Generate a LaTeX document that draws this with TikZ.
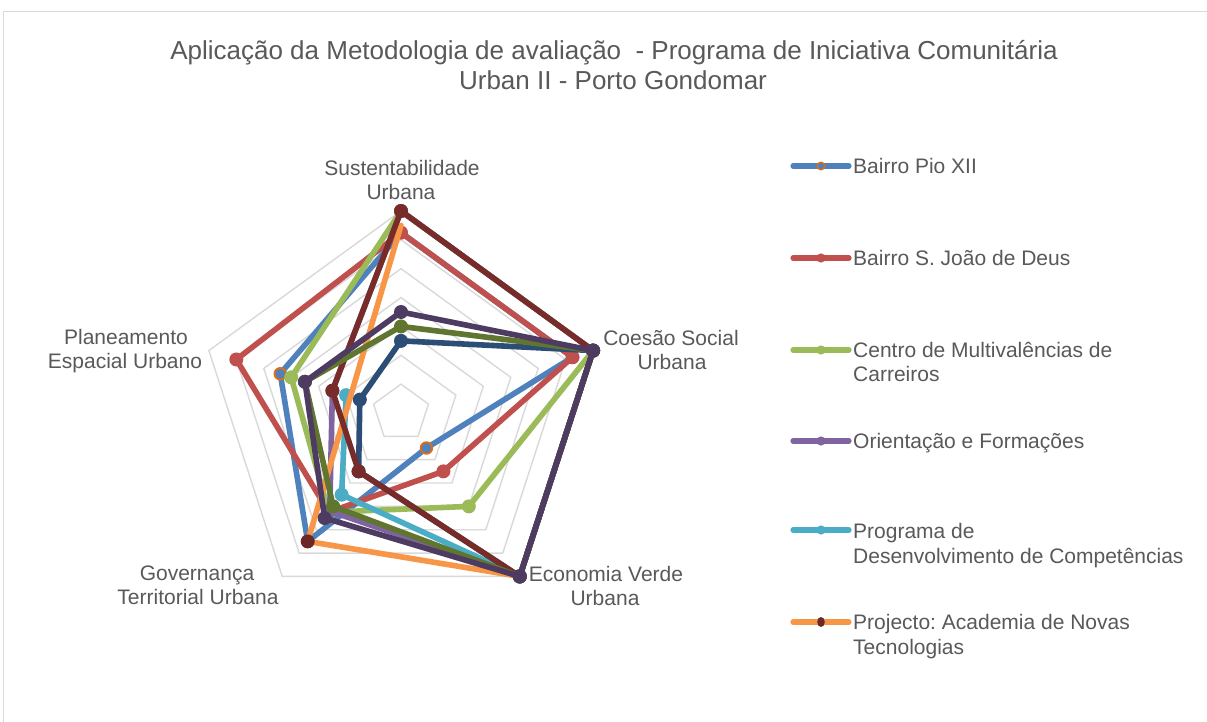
\documentclass[tikz,border=0pt]{standalone}
\usepackage{fontspec}
\setmainfont{Liberation Sans}
\usetikzlibrary{calc}
\definecolor{cBlue}{HTML}{4F81BD}
\definecolor{cRed}{HTML}{C0504D}
\definecolor{cGreen}{HTML}{9BBB59}
\definecolor{cPurple}{HTML}{8064A2}
\definecolor{cCyan}{HTML}{4BACC6}
\definecolor{cOrange}{HTML}{F79646}
\definecolor{cDBlue}{HTML}{2C4D75}
\definecolor{cMaroon}{HTML}{772C2A}
\definecolor{cDGreen}{HTML}{5F7530}
\definecolor{cDPurple}{HTML}{4D3B62}
\definecolor{cMkOrange}{HTML}{E46C0A}
\definecolor{cText}{HTML}{595959}
\definecolor{cGrid}{HTML}{D9D9D9}
\newcommand{\U}{28.857}
\newcommand{\defser}[6]{%
  \coordinate (#1-1) at ($(C)+(-90:{#2*\U})$);
  \coordinate (#1-2) at ($(C)+(-18:{#3*\U})$);
  \coordinate (#1-3) at ($(C)+(54:{#4*\U})$);
  \coordinate (#1-4) at ($(C)+(126:{#5*\U})$);
  \coordinate (#1-5) at ($(C)+(198:{#6*\U})$);}
\newcommand{\mkr}{7}
\tikzset{
  serline/.style={line width=5.6, line join=round, line cap=round},
  gridline/.style={draw=cGrid, line width=1.4},
  lab/.style={text=cText, inner sep=0, font=\fontsize{21}{24}\selectfont},
  ttl/.style={text=cText, inner sep=0, font=\fontsize{26}{30}\selectfont},
  legline/.style={line width=5.2, line cap=round},
}
\frenchspacing
\begin{document}
\begin{tikzpicture}[x=1pt,y=-1pt]
\useasboundingbox (0,0) rectangle (1207,722);
\fill[white] (0,0) rectangle (1207,722);
\begin{scope}
\clip (0,0) rectangle (1207,722);
\draw[draw=cGrid, line width=1.5] (3.5,11.5) rectangle (1230,740);
\end{scope}
% title
\node[ttl, anchor=base] (t1) at (614,59.5) {Aplicação da Metodologia de avaliação \ - Programa de Iniciativa Comunitária};
\node[ttl, anchor=base] (t2) at (613,89.5) {Urban II - Porto Gondomar};
% radar grid
\coordinate (C) at (401,413);
\foreach \k in {1,...,7}{
  \draw[gridline] ($(C)+(-90:{\k*\U})$) -- ($(C)+(-18:{\k*\U})$) -- ($(C)+(54:{\k*\U})$) -- ($(C)+(126:{\k*\U})$) -- ($(C)+(198:{\k*\U})$) -- cycle;
}
% axis labels
\node[lab, anchor=base] (ls1) at (402,175.5) {Sustentabilidade};
\node[lab, anchor=base] (ls2) at (401,199.5) {Urbana};
\node[lab, anchor=base] (lc1) at (671,345.5) {Coesão Social};
\node[lab, anchor=base] (lc2) at (672,369.5) {Urbana};
\node[lab, anchor=base] (le1) at (606,581.5) {Economia Verde};
\node[lab, anchor=base] (le2) at (605,605.5) {Urbana};
\node[lab, anchor=base] (lg1) at (197,580.5) {Governança};
\node[lab, anchor=base] (lg2) at (198,604.5) {Territorial Urbana};
\node[lab, anchor=base] (lp1) at (126,344.5) {Planeamento};
\node[lab, anchor=base] (lp2) at (125,368.5) {Espacial Urbano};
% data
\defser{b}{6.25}{6.25}{1.5}{5.5}{4.4}
\defser{r}{6.25}{6.25}{2.5}{4.25}{6}
\defser{g}{7}{7}{4}{4.25}{4}
\defser{p}{7}{7}{7}{4.2}{2.5}
\defser{c}{0}{0}{7}{3.5}{2}
\defser{o}{6.5}{7}{7}{5.5}{0}
\defser{db}{2.5}{7}{7}{2.5}{1.5}
\defser{m}{7}{7}{7}{2.5}{2.5}
\defser{dg}{3}{7}{7}{4}{3.5}
\defser{dp}{3.5}{7}{7}{4.5}{3.5}
% series 1
\draw[serline, cBlue] (b-1) -- (b-2) -- (b-3) -- (b-4) -- (b-5) -- cycle;
\foreach \i in {1,...,5}{\filldraw[fill=cBlue, draw=cMkOrange, line width=1.8] (b-\i) circle (5.8);}
% series 2
\draw[serline, cRed] (r-1) -- (r-2) -- (r-3) -- (r-4) -- (r-5) -- cycle;
\foreach \i in {1,...,5}{\fill[cRed] (r-\i) circle (\mkr);}
% series 3
\draw[serline, cGreen] (g-1) -- (g-2) -- (g-3) -- (g-4) -- (g-5) -- cycle;
\foreach \i in {1,...,5}{\fill[cGreen] (g-\i) circle (\mkr);}
% series 4
\draw[serline, cPurple] (p-1) -- (p-2) -- (p-3) -- (p-4) -- (p-5) -- cycle;
\foreach \i in {1,...,5}{\fill[cPurple] (p-\i) circle (\mkr);}
% series 5
\draw[serline, cCyan] (c-5) -- (c-4) -- (c-3);
\foreach \i in {3,4,5}{\fill[cCyan] (c-\i) circle (\mkr);}
% series 6
\draw[serline, cOrange] (o-3) -- (o-4) -- (o-1);
\foreach \i in {3,4}{\fill[cMaroon!90!black] (o-\i) circle (\mkr);}
% series 7
\draw[serline, cDBlue] (db-1) -- (db-2) -- (db-3) -- (db-4) -- (db-5) -- cycle;
\foreach \i in {1,...,5}{\fill[cDBlue] (db-\i) circle (\mkr);}
% series 8
\draw[serline, cMaroon] (m-1) -- (m-2) -- (m-3) -- (m-4) -- (m-5) -- cycle;
\foreach \i in {1,...,5}{\fill[cMaroon] (m-\i) circle (\mkr);}
% series 9
\draw[serline, cDGreen] (dg-1) -- (dg-2) -- (dg-3) -- (dg-4) -- (dg-5) -- cycle;
\foreach \i in {1,...,5}{\fill[cDGreen] (dg-\i) circle (\mkr);}
% series 10
\draw[serline, cDPurple] (dp-1) -- (dp-2) -- (dp-3) -- (dp-4) -- (dp-5) -- cycle;
\foreach \i in {1,...,5}{\fill[cDPurple] (dp-\i) circle (\mkr);}
% legend
\coordinate (L1a) at (793,166); \coordinate (L1b) at (849,166); \coordinate (L1m) at (821,166);
\coordinate (L2a) at (793,258); \coordinate (L2b) at (849,258); \coordinate (L2m) at (821,258);
\coordinate (L3a) at (793,350); \coordinate (L3b) at (849,350); \coordinate (L3m) at (821,350);
\coordinate (L4a) at (793,441); \coordinate (L4b) at (849,441); \coordinate (L4m) at (821,441);
\coordinate (L5a) at (793,530); \coordinate (L5b) at (849,530); \coordinate (L5m) at (821,530);
\coordinate (L6a) at (793,622); \coordinate (L6b) at (849,622); \coordinate (L6m) at (821,622);
\draw[legline, cBlue] (L1a) -- (L1b);
\filldraw[fill=cBlue, draw=cMkOrange, line width=1.3] (L1m) circle (3.8);
\draw[legline, cRed] (L2a) -- (L2b); \fill[cRed] (L2m) circle (4.6);
\draw[legline, cGreen] (L3a) -- (L3b); \fill[cGreen] (L3m) circle (4.6);
\draw[legline, cPurple] (L4a) -- (L4b); \fill[cPurple] (L4m) circle (4.6);
\draw[legline, cCyan] (L5a) -- (L5b); \fill[cCyan] (L5m) circle (4.6);
\draw[legline, cOrange] (L6a) -- (L6b); \fill[cMaroon!90!black] (L6m) ellipse (3.8 and 5);
\node[lab, anchor=base west] (e1) at (853,173.5) {Bairro Pio XII};
\node[lab, anchor=base west] (e2) at (853,265.5) {Bairro S. João de Deus};
\node[lab, anchor=base west] (e3a) at (853,357.5) {Centro de Multivalências de};
\node[lab, anchor=base west] (e3b) at (853,381.5) {Carreiros};
\node[lab, anchor=base west] (e4) at (853,448.5) {Orientação e Formações};
\node[lab, anchor=base west] (e5a) at (853,538.5) {Programa de};
\node[lab, anchor=base west] (e5b) at (853,563) {Desenvolvimento de Competências};
\node[lab, anchor=base west] (e6a) at (853,629.5) {Projecto: Academia de Novas};
\node[lab, anchor=base west] (e6b) at (853,654) {Tecnologias};
\end{tikzpicture}
\end{document}
